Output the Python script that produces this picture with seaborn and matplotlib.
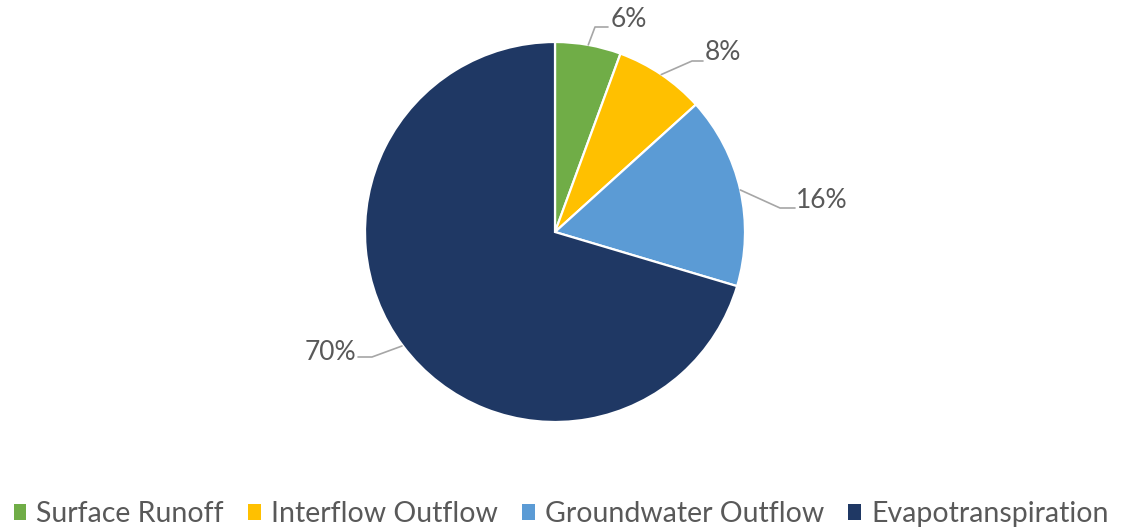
import numpy as np
import matplotlib
matplotlib.use("Agg")
import matplotlib.pyplot as plt
from matplotlib.patches import Patch
from matplotlib import font_manager
import seaborn as sns

categories = ["Surface Runoff", "Interflow Outflow", "Groundwater Outflow", "Evapotranspiration"]
values = [5.6, 7.7, 16.3, 70.4]
colors_hex = ["#70AD47", "#FFC000", "#5B9BD5", "#1F3864"]

sns.set_theme(style="white")
names = {f.name for f in font_manager.fontManager.ttflist}
fam = "Liberation Sans Narrow" if "Liberation Sans Narrow" in names else "Lato"
plt.rcParams["font.family"] = [fam, "DejaVu Sans"]

palette = sns.color_palette(colors_hex)
fig = plt.figure(figsize=(11.22, 5.29), dpi=100)
W, H = 1122, 529
cx, cy, R = 555, 232, 190
ax = fig.add_axes([(cx - R) / W, (H - cy - R) / H, 2 * R / W, 2 * R / H])
wedges, _ = ax.pie(values, colors=palette, startangle=90, counterclock=False,
                   radius=1.0, wedgeprops=dict(edgecolor="white", linewidth=1.6))
ax.set_xlim(-1, 1)
ax.set_ylim(-1, 1)
ax.axis("off")

def px(x, y):
    return ((x - cx) / R, (cy - y) / R)

# label layout: (elbow point, end of horizontal, text anchor x, text center y, ha) in pixels
layout = [
    ((595, 27), (608, 27), 611, 19, "left"),
    ((692, 61), (703, 61), 705, 53, "left"),
    ((780, 208), (795, 208), 796, 200, "left"),
    ((402, 346), (372, 357), 356, 352, "right"),
]
tc = "#595959"
cum = 0
for v, (elb, end, tx, ty, ha) in zip(values, layout):
    mid = 90 - (cum + v / 2) * 3.6
    cum += v
    sx, sy = np.cos(np.radians(mid)), np.sin(np.radians(mid))
    ex, ey = px(*elb)
    hx, hy = px(*end)
    if ha == "right":
        ax.plot([ex, hx, px(358, 357)[0]], [ey, hy, hy], color="#A6A6A6", lw=1.2, clip_on=False)
    else:
        ax.plot([sx, ex, hx], [sy, ey, hy], color="#A6A6A6", lw=1.2, clip_on=False)
    ttx, tty = px(tx, ty)
    ax.text(ttx, tty, f"{v:.0f}%", ha=ha, va="center", fontsize=19, color=tc, clip_on=False)

handles = [Patch(facecolor=c, edgecolor="none") for c in palette]
fig.legend(handles, categories, loc="lower center", bbox_to_anchor=(0.5, -0.045), ncol=4,
           frameon=False, fontsize=20.5, handlelength=0.45, handleheight=0.45,
           handletextpad=0.35, columnspacing=0.85, labelcolor=tc)
fig.savefig("out.png", dpi=100)
